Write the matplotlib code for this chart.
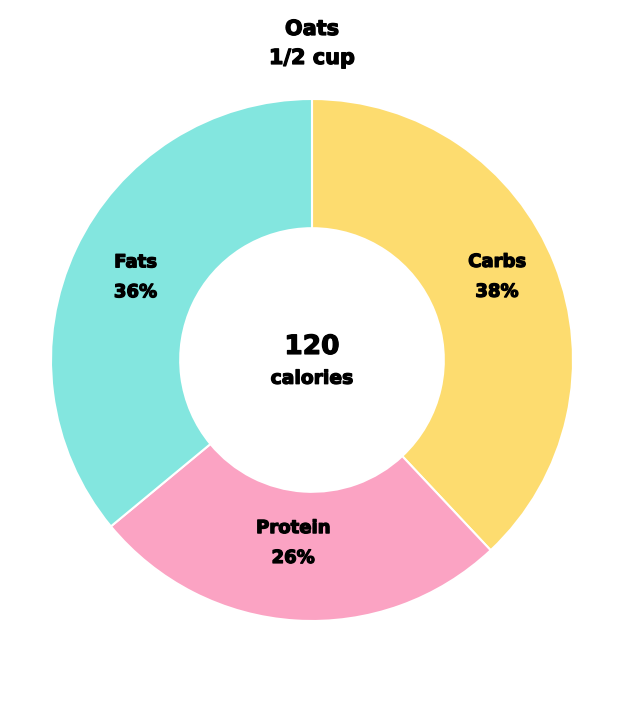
import numpy as np
import matplotlib
matplotlib.use("Agg")
import matplotlib.pyplot as plt
import matplotlib.patheffects as pe

# chart data
food = "Oats"
serving = "1/2 cup"
calories = 120
labels = ["Carbs", "Protein", "Fats"]
shares = [38, 26, 36]
colors = ["#FDDC6F", "#FBA3C3", "#83E6DF"]

plt.rcParams["font.family"] = ["DejaVu Sans"]
heavy = [pe.withStroke(linewidth=0.9, foreground="black")]  # fake a heavier weight

fig = plt.figure(figsize=(6.24, 7.2), dpi=100)
ax = fig.add_axes([51 / 624, 99 / 720, 522 / 624, 522 / 720])

wedges, _ = ax.pie(shares, colors=colors, startangle=90, counterclock=False,
                   radius=1.0, wedgeprops=dict(width=0.495, edgecolor="white", linewidth=1.5))
ax.set_xlim(-1, 1)
ax.set_ylim(-1, 1)
ax.set_aspect("equal")
ax.axis("off")

# slice labels near mid angle of each wedge (small nudges to match layout)
label_r = [0.777, 0.705, 0.747]
label_da = [2.6, -2.3, 0.1]
for w, lab, s, r, da in zip(wedges, labels, shares, label_r, label_da):
    mid = np.deg2rad((w.theta1 + w.theta2) / 2 + da)
    ax.text(r * np.cos(mid), r * np.sin(mid), f"{lab}\n{s}%", ha="center", va="center",
            fontsize=13, fontweight="bold", linespacing=1.85, color="black", path_effects=heavy)

ax.text(0, 0.05, str(calories), ha="center", va="center", fontsize=19, fontweight="bold",
        path_effects=heavy)
ax.text(0, -0.07, "calories", ha="center", va="center", fontsize=13.5, fontweight="bold",
        path_effects=heavy)

fig.text(0.5, 1 - 29 / 720, food, ha="center", va="center", fontsize=15, fontweight="bold",
         path_effects=heavy)
fig.text(0.5, 1 - 58 / 720, serving, ha="center", va="center", fontsize=15, fontweight="bold",
         path_effects=heavy)

fig.savefig("out.png", dpi=100, facecolor="white")
